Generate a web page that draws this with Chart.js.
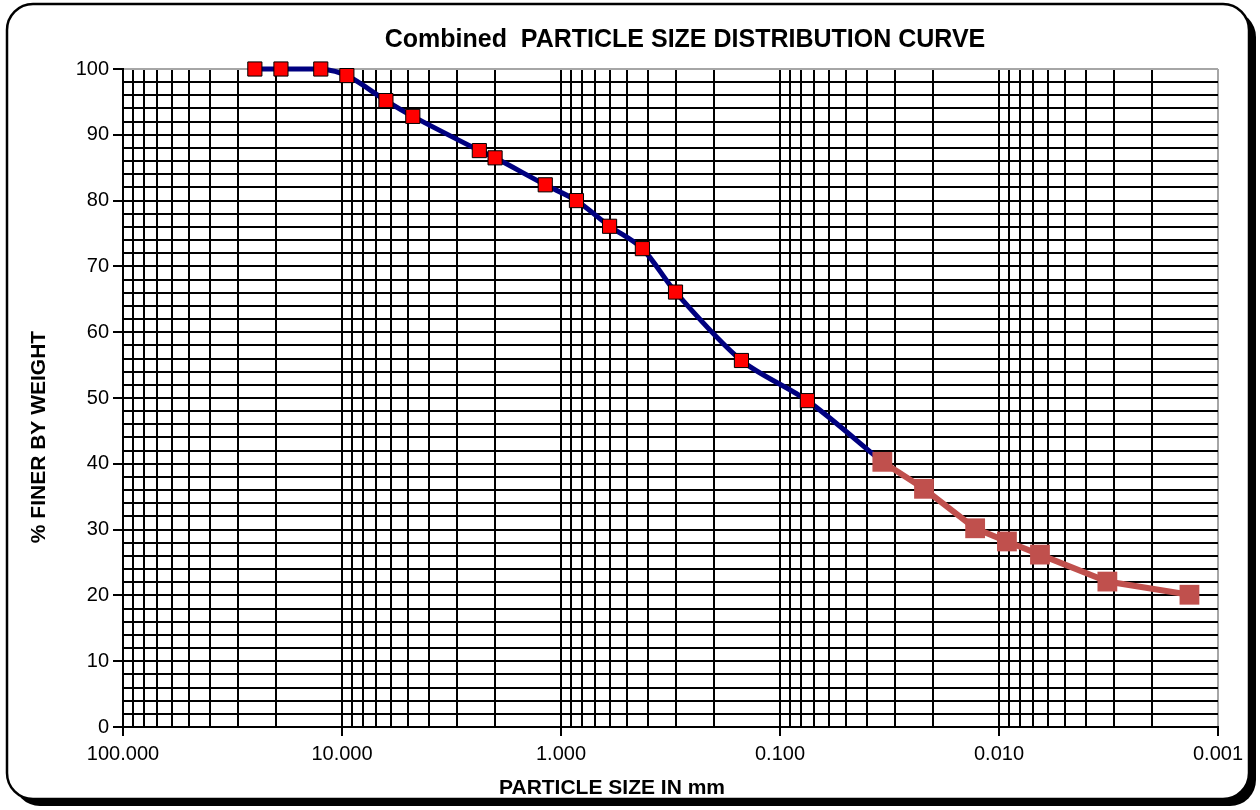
<!DOCTYPE html>
<html>
<head>
<meta charset="utf-8">
<title>Particle Size Distribution</title>
<script src="https://cdn.jsdelivr.net/npm/chart.js@4.4.0/dist/chart.umd.min.js"></script>
<style>
  html, body { margin: 0; padding: 0; background: #fff; }
  #wrap { width: 1260px; height: 810px; }
</style>
</head>
<body>
<div id="wrap"><canvas id="psdChart" width="1260" height="810"></canvas></div>
<script>
// sieve analysis (coarse fraction), size in mm vs % passing
const sieveSizes = [25, 19, 12.5, 9.5, 6.3, 4.75, 2.36, 2.0, 1.18, 0.85, 0.6, 0.425, 0.3, 0.15, 0.075, 0.0341];
const sievePassing = [100, 100, 100, 99.0, 95.2, 92.8, 87.6, 86.5, 82.4, 80.0, 76.1, 72.7, 66.1, 55.7, 49.6, 40.3];

// hydrometer analysis (fine fraction)
const hydroSizes = [0.0341, 0.0220, 0.01285, 0.0092, 0.0065, 0.0032, 0.00135];
const hydroPassing = [40.3, 36.2, 30.2, 28.2, 26.2, 22.1, 20.1];

// labelled decades on the size axis
const sizeLabels = [100, 10, 1, 0.1, 0.01, 0.001];

const FONT = "'Liberation Sans', Arial, sans-serif";
const EDGE = '#a6a6a6';

const toPoints = (xs, ys) => xs.map((x, i) => ({ x: x, y: ys[i] }));
const isDecade = v => sizeLabels.some(d => Math.abs(d - v) < d * 1e-6);

// rounded frame with a hard drop shadow
const framePlugin = {
  id: 'frame',
  beforeDraw(chart) {
    const ctx = chart.ctx;
    ctx.save();
    ctx.fillStyle = '#fff';
    ctx.fillRect(0, 0, chart.width, chart.height);
    ctx.beginPath();
    ctx.roundRect(14, 11, 1242, 795, 26);
    ctx.fillStyle = '#000';
    ctx.fill();
    ctx.beginPath();
    ctx.roundRect(7, 4, 1242, 795, 26);
    ctx.fillStyle = '#fff';
    ctx.fill();
    ctx.lineWidth = 2.5;
    ctx.strokeStyle = '#000';
    ctx.stroke();
    ctx.restore();
  }
};

// chart title + axis titles
const titlesPlugin = {
  id: 'titles',
  afterDraw(chart) {
    const ctx = chart.ctx;
    ctx.save();
    ctx.fillStyle = '#000';
    ctx.textAlign = 'center';
    ctx.textBaseline = 'alphabetic';
    ctx.font = 'bold 25px ' + FONT;
    ctx.fillText('Combined  PARTICLE SIZE DISTRIBUTION CURVE', 685, 47);
    ctx.font = 'bold 21px ' + FONT;
    ctx.fillText('PARTICLE SIZE IN mm', 612, 794);
    ctx.translate(45, 437);
    ctx.rotate(-Math.PI / 2);
    ctx.fillText('% FINER BY WEIGHT', 0, 0);
    ctx.restore();
  }
};

new Chart(document.getElementById('psdChart'), {
  type: 'line',
  data: {
    datasets: [
      {
        label: 'Sieve',
        data: toPoints(sieveSizes, sievePassing),
        borderColor: '#000080',
        borderWidth: 5,
        tension: 0.3,
        pointStyle: 'rect',
        pointRadius: sieveSizes.map((s, i) => i === sieveSizes.length - 1 ? 0 : 10),
        pointBackgroundColor: '#ff0000',
        pointBorderColor: '#000',
        pointBorderWidth: 1,
        clip: false,
        order: 1
      },
      {
        label: 'Hydrometer',
        data: toPoints(hydroSizes, hydroPassing),
        borderColor: '#c0504d',
        borderWidth: 6,
        tension: 0,
        pointStyle: 'rect',
        pointRadius: 14,
        pointBackgroundColor: '#c0504d',
        pointBorderColor: '#c0504d',
        pointBorderWidth: 0,
        clip: false,
        order: 0
      }
    ]
  },
  options: {
    responsive: false,
    animation: false,
    layout: { padding: { top: 69, right: 42, left: 0, bottom: 0 } },
    plugins: {
      legend: { display: false },
      tooltip: { enabled: false },
      title: { display: false }
    },
    scales: {
      x: {
        type: 'logarithmic',
        reverse: true,
        min: 0.001,
        max: 100,
        afterFit: s => { s.height = 83; },
        afterBuildTicks: scale => {
          const ticks = [];
          for (let e = -3; e < 2; e++) {
            for (let m = 1; m < 10; m++) ticks.push({ value: +(m * Math.pow(10, e)).toPrecision(3) });
          }
          ticks.push({ value: 100 });
          scale.ticks = ticks;
        },
        border: { display: true, color: '#000', width: 2 },
        grid: {
          color: c => (c.tick && Math.abs(c.tick.value - 0.001) < 1e-9) ? EDGE : '#000',
          lineWidth: 2,
          tickLength: 9,
          tickColor: c => (c.tick && isDecade(c.tick.value)) ? '#000' : 'rgba(0,0,0,0)',
          tickWidth: 2
        },
        ticks: {
          autoSkip: false,
          maxRotation: 0,
          padding: 6,
          color: '#000',
          font: { family: FONT, size: 20 },
          callback: v => isDecade(v) ? Number(v).toFixed(3) : ''
        }
      },
      y: {
        min: 0,
        max: 100,
        afterFit: s => { s.width = 123; },
        border: { display: true, color: '#000', width: 2 },
        grid: {
          color: c => (c.tick && c.tick.value === 100) ? EDGE : '#000',
          lineWidth: 2,
          tickLength: 10,
          tickColor: c => (c.tick && c.tick.value % 10 === 0) ? '#000' : 'rgba(0,0,0,0)',
          tickWidth: 2
        },
        ticks: {
          stepSize: 2,
          autoSkip: false,
          padding: 4,
          color: '#000',
          font: { family: FONT, size: 20 },
          callback: v => v % 10 === 0 ? v : ''
        }
      }
    }
  },
  plugins: [framePlugin, titlesPlugin]
});
</script>
</body>
</html>
